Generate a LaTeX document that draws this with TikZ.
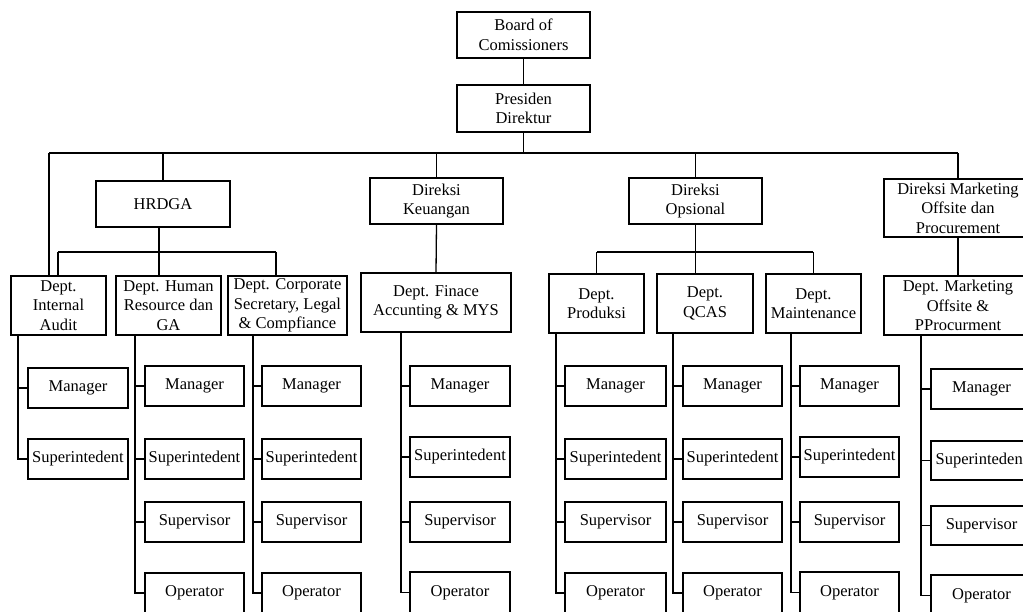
\documentclass[tikz,border=0pt]{standalone}
\usepackage{fontspec}
\setmainfont{Liberation Serif}
\newcommand\bx[6]{\node[box, minimum width={(#4-#2)*1pt}, minimum height={(#5-#3)*1pt}] (#1) at ({(#2+#4)/2},{(#3+#5)/2}) {#6};}
\newcommand\spine[3]{\foreach \b in {#3} {\draw (#1.south -| #2) |- (\b.west);}}
\begin{document}
\begin{tikzpicture}[x=1pt,y=-1pt, line width=1.3pt,
  box/.style={draw, rectangle, inner sep=0pt, align=center, font=\fontsize{16.5}{19.5}\selectfont}]
\useasboundingbox (0,0) rectangle (1023,612);
\fill[white] (0,0) rectangle (1023,612);
\clip (0,0) rectangle (1023,612);
% top levels
\bx{boc}{457}{12}{590}{58}{Board of\\Comissioners}
\bx{pd}{457}{85}{590}{132}{Presiden\\Direktur}
\bx{hrdga}{96}{181}{230}{227}{HRDGA}
\bx{keu}{370}{178}{503}{224}{Direksi\\Keuangan}
\bx{ops}{629}{178}{762}{224}{Direksi\\Opsional}
\bx{dmk}{884}{179}{1032}{237}{Direksi Marketing\\Offsite dan\\Procurement}
% departments
\bx{ia}{11}{276}{106}{335}{Dept.\\Internal\\Audit}
\bx{hr}{116}{276}{221}{335}{Dept. Human\\Resource dan\\GA}
\bx{cs}{228}{276}{347}{335}{Dept. Corporate\\Secretary, Legal\\\& Compfiance}
\bx{fin}{361}{273}{511}{332}{Dept. Finace\\Accunting \& MYS}
\bx{prod}{549}{274}{644}{333}{Dept.\\Produksi}
\bx{qc}{657}{274}{753}{333}{Dept.\\QCAS}
\bx{mt}{766}{274}{861}{333}{Dept.\\Maintenance}
\bx{mk}{884}{276}{1032}{335}{Dept. Marketing\\Offsite \&\\PProcurment}
% positions
\bx{ia1}{28}{368}{128}{408}{Manager}
\bx{ia2}{28}{439}{128}{479}{Superintedent}
\bx{hr1}{145}{366}{244}{406}{Manager}
\bx{hr2}{145}{439}{244}{479}{Superintedent}
\bx{hr3}{145}{502}{244}{542}{Supervisor}
\bx{hr4}{145}{573}{244}{613}{Operator}
\bx{cs1}{262}{366}{361}{406}{Manager}
\bx{cs2}{262}{439}{361}{479}{Superintedent}
\bx{cs3}{262}{502}{361}{542}{Supervisor}
\bx{cs4}{262}{573}{361}{613}{Operator}
\bx{fi1}{410}{366}{510}{406}{Manager}
\bx{fi2}{410}{437}{510}{477}{Superintedent}
\bx{fi3}{410}{502}{510}{542}{Supervisor}
\bx{fi4}{410}{572}{510}{613}{Operator}
\bx{pr1}{565}{366}{666}{406}{Manager}
\bx{pr2}{565}{439}{666}{479}{Superintedent}
\bx{pr3}{565}{502}{666}{542}{Supervisor}
\bx{pr4}{565}{573}{666}{613}{Operator}
\bx{qc1}{683}{366}{782}{406}{Manager}
\bx{qc2}{683}{439}{782}{479}{Superintedent}
\bx{qc3}{683}{502}{782}{542}{Supervisor}
\bx{qc4}{683}{573}{782}{613}{Operator}
\bx{mt1}{800}{366}{899}{406}{Manager}
\bx{mt2}{800}{437}{899}{477}{Superintedent}
\bx{mt3}{800}{502}{899}{542}{Supervisor}
\bx{mt4}{800}{572}{899}{613}{Operator}
\bx{mk1}{931}{369}{1032}{409}{Manager}
\bx{mk2}{931}{441}{1032}{480}{Superintedent}
\bx{mk3}{931}{506}{1032}{545}{Supervisor}
\bx{mk4}{931}{575}{1032}{616}{Operator}
% connectors, top
\draw (boc.south) -- (pd.north);
\coordinate (b0) at (49,153);
\coordinate (b1) at (958,153);
\draw (b0) -- (b1);
\draw (pd.south) -- (pd.south |- b0);
\foreach \n in {hrdga,keu,ops,dmk} {\draw (\n.north) -- (\n.north |- b0);}
\draw (b0) -- (b0 |- ia.north);
\draw (keu.south) -- (fin.north);
\draw (dmk.south) -- (mk.north);
% HRDGA bus
\coordinate (h0) at (159,252);
\coordinate (hL) at (58,252);
\coordinate (hR) at (276,252);
\draw (hrdga.south -| h0) -- (h0);
\draw (hL) -- (hR);
\draw (hL) -- (hL |- ia.north);
\draw (h0) -- (h0 |- hr.north);
\draw (hR) -- (hR |- cs.north);
% Opsional bus
\coordinate (oL) at (597,252);
\coordinate (oR) at (813,252);
\draw (ops.south) -- (ops.south |- qc.north);
\draw (oL) -- (oR);
\draw (prod.north) -- (prod.north |- oL);
\draw (mt.north) -- (mt.north |- oR);
% spines
\coordinate (sia) at (18,0);
\coordinate (shr) at (135,0);
\coordinate (scs) at (253,0);
\coordinate (sfi) at (401,0);
\coordinate (spr) at (556,0);
\coordinate (sqc) at (673,0);
\coordinate (smt) at (791,0);
\coordinate (smk) at (921,0);
\spine{ia}{sia}{ia1,ia2}
\spine{hr}{shr}{hr1,hr2,hr3,hr4}
\spine{cs}{scs}{cs1,cs2,cs3,cs4}
\spine{fin}{sfi}{fi1,fi2,fi3,fi4}
\spine{prod}{spr}{pr1,pr2,pr3,pr4}
\spine{qc}{sqc}{qc1,qc2,qc3,qc4}
\spine{mt}{smt}{mt1,mt2,mt3,mt4}
\spine{mk}{smk}{mk1,mk2,mk3,mk4}
\end{tikzpicture}
\end{document}
